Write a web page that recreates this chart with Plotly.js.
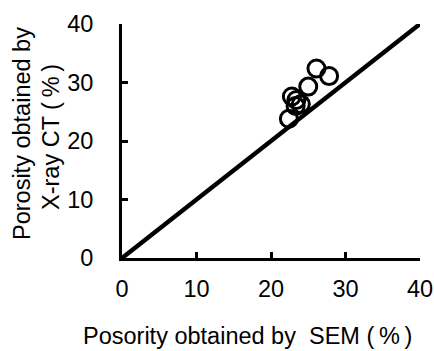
<!DOCTYPE html>
<html>
<head>
<meta charset="utf-8">
<script src="https://cdn.plot.ly/plotly-3.0.1.min.js"></script>
<style>html,body{margin:0;padding:0;background:#fff;}#chart{width:434px;height:351px;}</style>
</head>
<body>
<div id="chart"></div>
<script>
var semPorosity = [26.1, 27.8, 25.0, 22.8, 24.0, 23.3, 22.4, 23.4];
var ctPorosity  = [32.4, 31.1, 29.3, 27.6, 26.3, 26.0, 23.8, 27.0];
var refLineX = [0, 40];
var refLineY = [0, 40];
var tickVals = [0, 10, 20, 30, 40];
var pct = "(\u2009%\u2009)";
var xTitle = "Posority obtained by  SEM " + pct;
var yTitle1 = "Porosity obtained by";
var yTitle2 = "X-ray CT " + pct;

var traces = [
  {x: refLineX, y: refLineY, mode: 'lines', line: {color: '#000', width: 4.5}, hoverinfo: 'skip', cliponaxis: false},
  {x: semPorosity, y: ctPorosity, mode: 'markers',
   marker: {symbol: 'circle-open', size: 17, color: '#000', line: {color: '#000', width: 3}}, cliponaxis: false}
];
var fam = 'Liberation Sans, Arial, sans-serif';
var tfont = {size: 23.5, family: fam, color: '#000'};
var layout = {
  width: 434, height: 351,
  margin: {l: 122, r: 14, t: 24, b: 93},
  showlegend: false,
  paper_bgcolor: '#fff', plot_bgcolor: '#fff',
  font: {family: fam, color: '#000'},
  xaxis: {
    range: [0, 40], tickvals: tickVals, showgrid: false, zeroline: false,
    showline: true, linecolor: '#000', linewidth: 3,
    ticks: 'inside', ticklen: 6, tickwidth: 3, tickcolor: '#000',
    tickfont: {size: 23.5, family: fam, color: '#000'},
    ticklabelstandoff: 8
  },
  yaxis: {
    range: [0, 40], tickvals: tickVals, showgrid: false, zeroline: false,
    showline: true, linecolor: '#000', linewidth: 3,
    ticks: 'inside', ticklen: 6, tickwidth: 3, tickcolor: '#000',
    tickfont: {size: 23.5, family: fam, color: '#000'},
    ticklabelstandoff: 21
  },
  annotations: [
    {text: xTitle, xref: 'paper', yref: 'paper', x: (247 - 122) / 298, y: -(336 - 258) / 234,
     xanchor: 'center', yanchor: 'middle', showarrow: false, font: tfont},
    {text: yTitle1, xref: 'paper', yref: 'paper', x: -(122 - 22) / 298, y: (258 - 134) / 234,
     xanchor: 'center', yanchor: 'middle', textangle: -90, showarrow: false, font: tfont},
    {text: yTitle2, xref: 'paper', yref: 'paper', x: -(122 - 51) / 298, y: (258 - 137) / 234,
     xanchor: 'center', yanchor: 'middle', textangle: -90, showarrow: false, font: tfont}
  ]
};
Plotly.newPlot('chart', traces, layout, {displayModeBar: false, staticPlot: true});
</script>
</body>
</html>
